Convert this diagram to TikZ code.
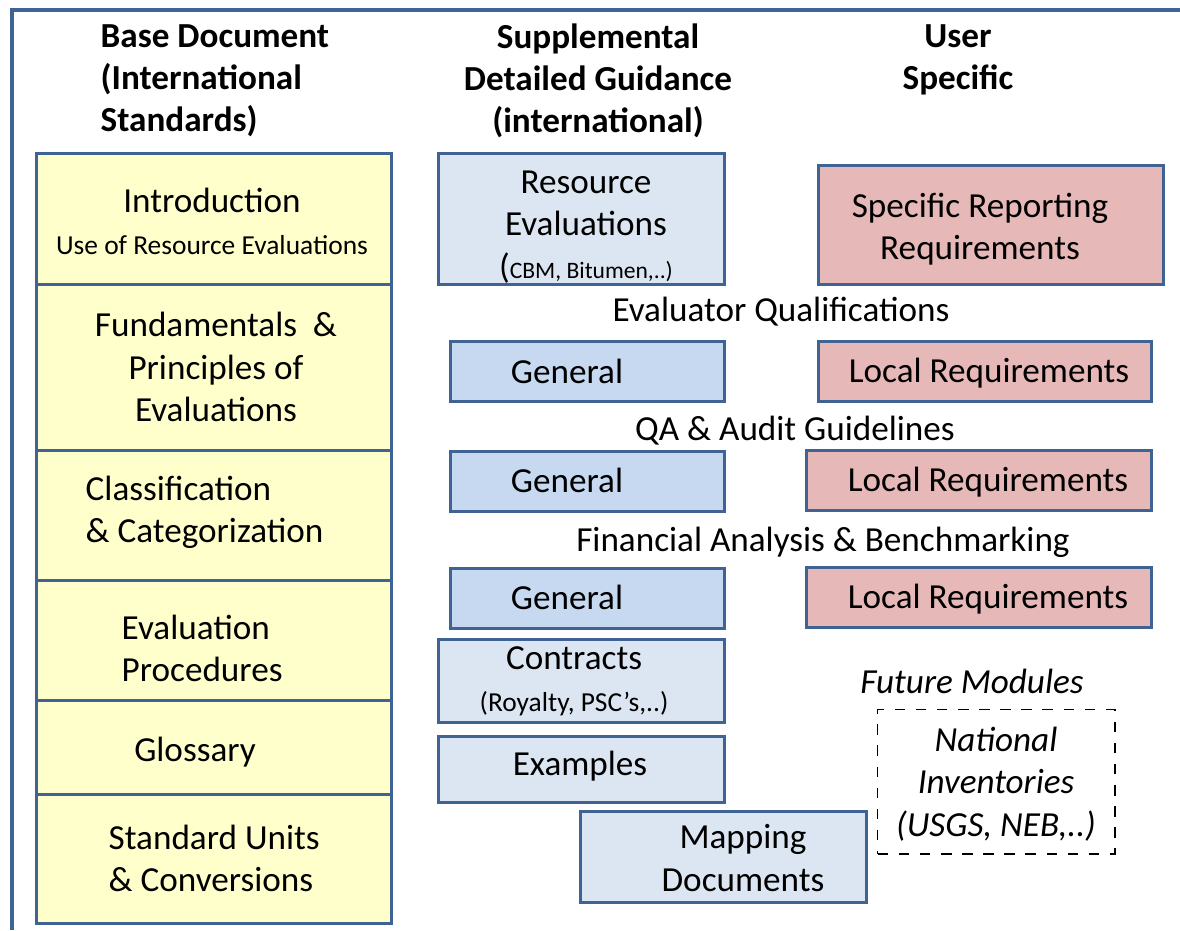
\documentclass[tikz,border=0pt]{standalone}
\usepackage{fontspec}
\setmainfont{Carlito}
\usetikzlibrary{positioning}
\definecolor{edgeblue}{HTML}{3F6493}
\definecolor{baseyellow}{HTML}{FFFFCC}
\definecolor{suppblue}{HTML}{DCE6F2}
\definecolor{genblue}{HTML}{C6D9F1}
\definecolor{userpink}{HTML}{E6B9B8}

\begin{document}
\begin{tikzpicture}[x=0.01cm, y=-0.01cm,
        box/.style={draw=edgeblue, line width=0.9pt, anchor=north west, inner sep=0pt},
        base/.style={box, fill=baseyellow, minimum width=3.55cm},
        supp/.style={box, fill=suppblue, minimum width=2.86cm},
        gen/.style={box, fill=genblue, minimum width=2.74cm, minimum height=0.6cm},
        user/.style={box, fill=userpink, minimum height=0.6cm},
        txt/.style={font=\fontsize{10}{12}\selectfont, inner sep=0pt, align=center},
        head/.style={txt, font=\fontsize{10}{12}\selectfont\bfseries},
        ital/.style={txt, font=\fontsize{10}{12}\selectfont\itshape}]
        \useasboundingbox (0,0) rectangle (1180,930);
        \draw[edgeblue, line width=0.9pt] (12,930) -- (12,10) -- (1180,10);

        \node[head, align=left, anchor=west] (hbase) at (100,81) {Base Document\\(International\\Standards)};
        \node[head] (hsupp) at (598,81) {Supplemental\\Detailed Guidance\\(international)};
        \node[head] (huser) at (958,60) {User\\Specific};

        \foreach \t/\b/\n in {152/283/intro, 283/449/fund, 449/579/class, 579/699/proc, 699/793/gloss, 793/922/units}
        { \node[base, minimum height={(\b-\t)*0.01cm}] (\n) at (35,\t) {};
        }
        \node[txt] (introT) at (212,221) {Introduction\\{\fontsize{7.8}{11}\selectfont Use of Resource Evaluations}};
        \node[txt] (fundT) at (216,367) {Fundamentals~~\&\\Principles of\\Evaluations};
        \node[txt, align=left, anchor=west] (classT) at (85,512) {Classification\\\& Categorization};
        \node[txt, align=left, anchor=west] (procT) at (121,648) {Evaluation\\Procedures};
        \node[txt] (glossT) at (195,752) {Glossary};
        \node[txt, align=left, anchor=west] (unitsT) at (108,858) {Standard Units\\\& Conversions};

        \node[supp, minimum height=1.31cm] (resev) at (437,152) {};
        \node[txt] (resevT) at (586,227) {Resource\\Evaluations\\{\fontsize{10}{12.5}\selectfont(}{\fontsize{6.7}{8}\selectfont CBM, Bitumen,..)}};
        \node[user, minimum width=3.45cm, minimum height=1.19cm] (specrep) at (817,164) {};
        \node[txt] (specrepT) at (980,229) {Specific Reporting\\Requirements};

        \node[txt] (evqual) at (781,312) {Evaluator Qualifications};
        \node[gen] (gen1) at (449,340) {};
        \node[txt] (gen1T) at (567,371) {General};
        \node[user, minimum width=3.33cm] (loc1) at (817,340) {};
        \node[txt] (loc1T) at (989,373) {Local Requirements};

        \node[txt] (qaaudit) at (795,431) {QA \& Audit Guidelines};
        \node[gen] (gen2) at (449,450) {};
        \node[txt] (gen2T) at (567,480) {General};
        \node[user, minimum width=3.45cm] (loc2) at (805,449) {};
        \node[txt] (loc2T) at (988,482) {Local Requirements};

        \node[txt] (finan) at (823,542) {Financial Analysis \& Benchmarking};
        \node[gen] (gen3) at (449,567) {};
        \node[txt] (gen3T) at (567,597) {General};
        \node[user, minimum width=3.45cm] (loc3) at (805,566) {};
        \node[txt] (loc3T) at (988,599) {Local Requirements};

        \node[supp, minimum height=0.83cm] (contr) at (437,638) {};
        \node[txt] (contrT) at (574,681) {Contracts\\{\fontsize{7.8}{11}\selectfont(Royalty, PSC’s,..)}};
        \node[supp, minimum height=0.66cm] (exam) at (437,735) {};
        \node[txt] (examT) at (580,766) {Examples};
        \node[supp, minimum height=0.91cm] (mapdoc) at (579,810) {};
        \node[txt] (mapdocT) at (743,858) {Mapping\\Documents};

        \node[ital] (future) at (972,681) {Future Modules};
        \node[draw, dashed, line width=0.4pt, anchor=north west, minimum width=2.37cm, minimum height=1.44cm] (natinv) at (877,709) {};
        \node[ital] (natinvT) at (996,784) {National\\Inventories\\(USGS, NEB,..)};
\end{tikzpicture}
\end{document}
